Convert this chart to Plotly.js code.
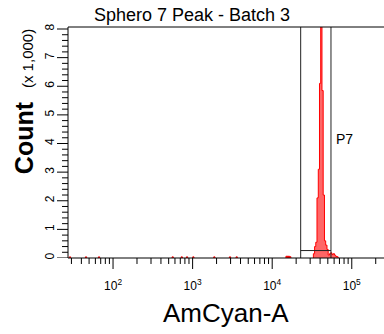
<!DOCTYPE html>
<html><head><meta charset="utf-8">
<script src="https://cdn.plot.ly/plotly-3.0.1.min.js"></script>
<style>html,body{margin:0;padding:0;background:#fff;}#chart{width:384px;height:334px;}</style>
</head><body><div id="chart"></div>
<script>
const chartTitle = 'Sphero 7 Peak - Batch 3';
const xTitle = 'AmCyan-A';
const yTitle = 'Count';
const yUnit = '(x 1,000)';
const gateName = 'P7';

// main peak: contiguous bin edges (AmCyan-A) and counts per bin
const peakEdges = [32930, 34100, 35300, 36550, 37950, 39290, 40680, 42220, 43720, 45390, 47000,
                   48790, 50530, 52450, 54310, 56400, 58410, 60650, 62770, 65180, 67470];
const peakCounts = [150, 400, 550, 2100, 3100, 6100, 9500, 5850, 2200, 600,
                    450, 300, 100, 150, 180, 120, 150, 100, 60, 40];

// isolated low-count bins (bin centre, count)
const eventCenters = [28.8, 45.8, 66.7, 562, 730, 851, 1021, 1875, 2950, 3580, 15140, 15690, 16270, 16860];
const eventCounts  = [40, 40, 40, 40, 40, 40, 40, 40, 40, 40, 60, 60, 60, 45];
const binWidthDecades = 0.0156;

// gate P7
const gateLo = 22800, gateHi = 54800, gateLevel = 260;

// axis ticks
const yTickVals = [0, 1000, 2000, 3000, 4000, 5000, 6000, 7000, 8000];
const yTickText = ['0', '1', '2', '3', '4', '5', '6', '7', '8'];
const yMinorStep = 200;
const xTickVals = [100, 1000, 10000, 100000];
const xTickText = ['10<sup>2</sup>', '10<sup>3</sup>', '10<sup>4</sup>', '10<sup>5</sup>'];
const xMinorVals = [30, 40, 50, 60, 70, 80, 90,
                    200, 300, 400, 500, 600, 700, 800, 900,
                    2000, 3000, 4000, 5000, 6000, 7000, 8000, 9000,
                    20000, 30000, 40000, 50000, 60000, 70000, 80000, 90000, 200000];

// build step outlines
const hx = [], hy = [];
function addSegment(edges, counts) {
  hx.push(edges[0]); hy.push(0);
  for (let i = 0; i < counts.length; i++) {
    hx.push(edges[i], edges[i + 1]);
    hy.push(counts[i], counts[i]);
  }
  hx.push(edges[edges.length - 1]); hy.push(0);
  hx.push(null); hy.push(null);
}
addSegment(peakEdges, peakCounts);
const half = Math.pow(10, binWidthDecades / 2);
for (let i = 0; i < eventCenters.length; i++) {
  addSegment([eventCenters[i] / half, eventCenters[i] * half], [eventCounts[i]]);
}

const FONT = 'Liberation Sans, Arial, Helvetica, sans-serif';
const yTop = 8070;
const xRange = [1.434, 5.405];
const W = 384, H = 334, M = {l: 68, r: 0, t: 27, b: 76};
const plotW = W - M.l - M.r, plotH = H - M.t - M.b;
const AX = '#000';

const traces = [
  {x: hx, y: hy, type: 'scatter', mode: 'lines', fill: 'toself',
   fillcolor: 'rgba(255,0,0,0.6)', line: {color: 'rgb(255,0,0)', width: 1},
   hoverinfo: 'skip', connectgaps: false},
  {x: [gateLo, gateLo], y: [0, yTop], type: 'scatter', mode: 'lines',
   line: {color: '#222', width: 1}, hoverinfo: 'skip'},
  {x: [gateHi, gateHi], y: [0, yTop], type: 'scatter', mode: 'lines',
   line: {color: '#222', width: 1}, hoverinfo: 'skip'},
  {x: [gateLo, gateHi], y: [gateLevel, gateLevel], type: 'scatter', mode: 'lines',
   line: {color: '#222', width: 1}, hoverinfo: 'skip'}
];

// frame lines and tick marks drawn as shapes
const shapes = [
  {type: 'line', xref: 'paper', yref: 'paper', x0: 0, x1: 1, y0: 1, y1: 1, line: {color: AX, width: 1}},
  {type: 'line', xref: 'paper', yref: 'paper', x0: 0, x1: 1, y0: 0, y1: 0, line: {color: AX, width: 1}},
  {type: 'line', xref: 'paper', yref: 'paper', x0: 0, x1: 0, y0: 0, y1: 1, line: {color: AX, width: 1}}
];
function yTick(v, len) {
  shapes.push({type: 'line', xref: 'paper', yref: 'y', x0: 0, x1: -len / plotW, y0: v, y1: v,
               line: {color: AX, width: 1}});
}
for (let v = 0; v <= yTop; v += yMinorStep) {
  yTick(v, yTickVals.indexOf(v) >= 0 ? 11 : 6);
}
// x ticks: one path shape in paper units
let xTickPath = '';
function xTick(v, len) {
  const f = (Math.log10(v) - xRange[0]) / (xRange[1] - xRange[0]);
  if (f < 0 || f > 1) return;
  xTickPath += 'M' + f.toFixed(5) + ',0L' + f.toFixed(5) + ',' + (-len / plotH).toFixed(5) + ' ';
}
xTickVals.forEach(v => xTick(v, 11));
xMinorVals.forEach(v => xTick(v, 6));
shapes.push({type: 'path', xref: 'paper', yref: 'paper', path: xTickPath.trim(),
             line: {color: 'rgb(0,0,0)', width: 1}, fillcolor: 'rgba(0,0,0,0)'});

const layout = {
  width: W, height: H,
  margin: {l: M.l, r: M.r, t: M.t, b: M.b, pad: 0},
  paper_bgcolor: '#fff', plot_bgcolor: 'rgba(0,0,0,0)',
  font: {family: FONT, color: '#000'},
  showlegend: false,
  title: {text: chartTitle, font: {size: 18, color: '#000', family: FONT},
          x: 0.5, xref: 'container', xanchor: 'center',
          y: 0.955, yref: 'container', yanchor: 'middle', pad: {t: 0, b: 0, l: 0, r: 0}},
  xaxis: {type: 'log', range: xRange, showline: false, showgrid: false, zeroline: false,
          ticks: 'outside', ticklen: 17, tickcolor: 'rgba(0,0,0,0)', fixedrange: true,
          tickmode: 'array', tickvals: xTickVals, ticktext: xTickText,
          tickfont: {size: 12, family: FONT, color: '#000'}},
  yaxis: {range: [0, yTop], showline: false, showgrid: false, zeroline: false,
          ticks: 'outside', ticklen: 8, tickcolor: 'rgba(0,0,0,0)', fixedrange: true,
          tickmode: 'array', tickvals: yTickVals, ticktext: yTickText, tickangle: -90,
          tickfont: {size: 12, family: FONT, color: '#000'}},
  shapes: shapes,
  annotations: [
    {text: '<b>' + yTitle + '</b>  <span style="font-size:15px">' + yUnit + '</span>',
     xref: 'paper', yref: 'paper', x: -0.139, y: 0.675, xanchor: 'center', yanchor: 'middle',
     textangle: -90, showarrow: false, font: {size: 25, family: FONT, color: '#000'}},
    {text: xTitle, xref: 'paper', yref: 'paper', x: 0.5, y: -0.238,
     xanchor: 'center', yanchor: 'middle', showarrow: false,
     font: {size: 26, family: FONT, color: '#000'}},
    {text: gateName, xref: 'x', yref: 'y', x: Math.log10(60000), y: 4150,
     xanchor: 'left', yanchor: 'middle', showarrow: false,
     font: {size: 14, family: FONT, color: '#000'}}
  ]
};

Plotly.newPlot('chart', traces, layout, {displayModeBar: false, staticPlot: true});
</script>
</body></html>
